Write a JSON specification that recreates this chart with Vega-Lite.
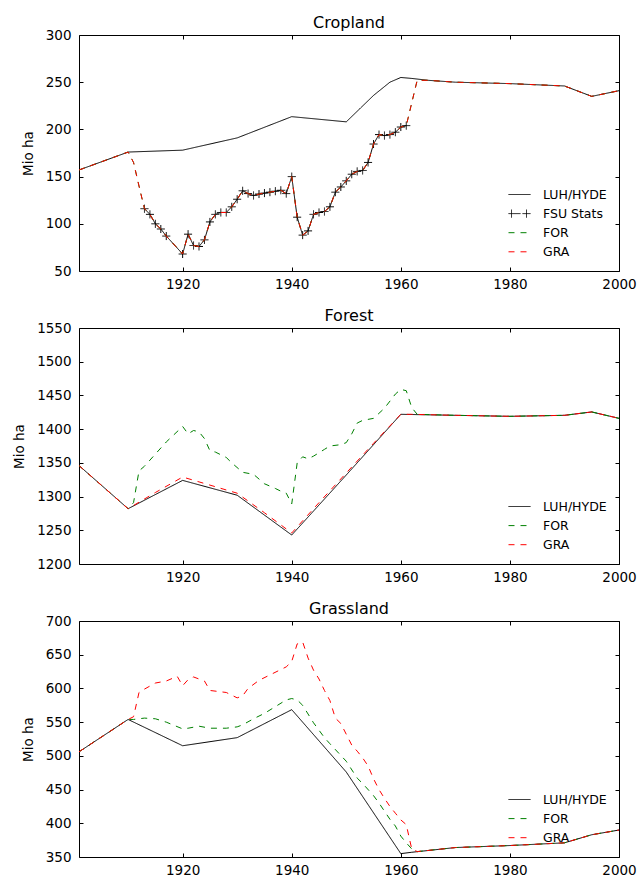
{
  "$schema": "https://vega.github.io/schema/vega-lite/v6.json",
  "padding": {"left": 12, "top": 14, "right": 5, "bottom": 0},
  "spacing": 16,
  "resolve": {"scale": {"color": "independent", "strokeDash": "independent", "y": "independent"}, "legend": {"color": "independent", "strokeDash": "independent"}},
  "config": {
    "font": "DejaVu Sans",
    "view": {"stroke": "#000", "strokeWidth": 1},
    "axis": {"grid": false, "domain": false, "tickSize": -4, "tickColor": "#000", "tickWidth": 1, "labelColor": "#000", "labelFontSize": 13.5, "labelFlush": false, "labelOverlap": false, "titleFontSize": 13.5, "titleFontWeight": "normal", "titleColor": "#000", "titlePadding": 10},
    "axisX": {"labelPadding": 10},
    "axisY": {"labelPadding": 12},
    "legend": {"orient": "bottom-right", "offset": 12, "labelFontSize": 12.5, "labelColor": "#000", "symbolSize": 196, "symbolStrokeWidth": 1, "labelOffset": 16, "rowPadding": 5.1, "symbolType": "M-1.57,0L1.57,0", "padding": 0},
    "title": {"fontSize": 16, "fontWeight": "normal", "color": "#000", "offset": -3}
  },
  "datasets": {
    "crop": [
      {"series": "LUH/HYDE", "year": 1901, "value": 157}, {"series": "LUH/HYDE", "year": 1910, "value": 176}, {"series": "LUH/HYDE", "year": 1920, "value": 178}, {"series": "LUH/HYDE", "year": 1930, "value": 191}, {"series": "LUH/HYDE", "year": 1940, "value": 213.5}, {"series": "LUH/HYDE", "year": 1950, "value": 208}, {"series": "LUH/HYDE", "year": 1955, "value": 236}, {"series": "LUH/HYDE", "year": 1958, "value": 250}, {"series": "LUH/HYDE", "year": 1960, "value": 255}, {"series": "LUH/HYDE", "year": 1962, "value": 254}, {"series": "LUH/HYDE", "year": 1965, "value": 252}, {"series": "LUH/HYDE", "year": 1970, "value": 250}, {"series": "LUH/HYDE", "year": 1980, "value": 248.5}, {"series": "LUH/HYDE", "year": 1990, "value": 246}, {"series": "LUH/HYDE", "year": 1995, "value": 235}, {"series": "LUH/HYDE", "year": 2000, "value": 241},

      {"series": "FSU Stats", "year": 1913, "value": 116}, {"series": "FSU Stats", "year": 1914, "value": 110}, {"series": "FSU Stats", "year": 1915, "value": 100}, {"series": "FSU Stats", "year": 1916, "value": 94.5}, {"series": "FSU Stats", "year": 1917, "value": 87}, {"series": "FSU Stats", "year": 1920, "value": 68}, {"series": "FSU Stats", "year": 1921, "value": 89}, {"series": "FSU Stats", "year": 1922, "value": 77}, {"series": "FSU Stats", "year": 1923, "value": 76}, {"series": "FSU Stats", "year": 1924, "value": 83}, {"series": "FSU Stats", "year": 1925, "value": 102}, {"series": "FSU Stats", "year": 1926, "value": 110}, {"series": "FSU Stats", "year": 1927, "value": 112}, {"series": "FSU Stats", "year": 1928, "value": 112}, {"series": "FSU Stats", "year": 1929, "value": 118}, {"series": "FSU Stats", "year": 1930, "value": 126}, {"series": "FSU Stats", "year": 1931, "value": 135}, {"series": "FSU Stats", "year": 1932, "value": 132}, {"series": "FSU Stats", "year": 1933, "value": 130}, {"series": "FSU Stats", "year": 1934, "value": 131.5}, {"series": "FSU Stats", "year": 1935, "value": 132.5}, {"series": "FSU Stats", "year": 1936, "value": 133.5}, {"series": "FSU Stats", "year": 1937, "value": 134.5}, {"series": "FSU Stats", "year": 1938, "value": 135.5}, {"series": "FSU Stats", "year": 1939, "value": 132}, {"series": "FSU Stats", "year": 1940, "value": 150}, {"series": "FSU Stats", "year": 1941, "value": 107}, {"series": "FSU Stats", "year": 1942, "value": 88}, {"series": "FSU Stats", "year": 1943, "value": 92.5}, {"series": "FSU Stats", "year": 1944, "value": 110}, {"series": "FSU Stats", "year": 1945, "value": 112}, {"series": "FSU Stats", "year": 1946, "value": 113}, {"series": "FSU Stats", "year": 1947, "value": 118}, {"series": "FSU Stats", "year": 1948, "value": 133.5}, {"series": "FSU Stats", "year": 1949, "value": 139}, {"series": "FSU Stats", "year": 1950, "value": 145.5}, {"series": "FSU Stats", "year": 1951, "value": 152.5}, {"series": "FSU Stats", "year": 1952, "value": 155.5}, {"series": "FSU Stats", "year": 1953, "value": 156.5}, {"series": "FSU Stats", "year": 1954, "value": 165}, {"series": "FSU Stats", "year": 1955, "value": 184.5}, {"series": "FSU Stats", "year": 1956, "value": 194.5}, {"series": "FSU Stats", "year": 1957, "value": 193.5}, {"series": "FSU Stats", "year": 1958, "value": 194.5}, {"series": "FSU Stats", "year": 1959, "value": 197}, {"series": "FSU Stats", "year": 1960, "value": 202.5}, {"series": "FSU Stats", "year": 1961, "value": 204},

      {"series": "FOR", "year": 1901, "value": 157}, {"series": "FOR", "year": 1910, "value": 176}, {"series": "FOR", "year": 1911, "value": 165}, {"series": "FOR", "year": 1912, "value": 140}, {"series": "FOR", "year": 1913, "value": 116}, {"series": "FOR", "year": 1914, "value": 110}, {"series": "FOR", "year": 1915, "value": 100}, {"series": "FOR", "year": 1916, "value": 94.5}, {"series": "FOR", "year": 1917, "value": 87}, {"series": "FOR", "year": 1920, "value": 68}, {"series": "FOR", "year": 1921, "value": 89}, {"series": "FOR", "year": 1922, "value": 77}, {"series": "FOR", "year": 1923, "value": 76}, {"series": "FOR", "year": 1924, "value": 83}, {"series": "FOR", "year": 1925, "value": 102}, {"series": "FOR", "year": 1926, "value": 110}, {"series": "FOR", "year": 1927, "value": 112}, {"series": "FOR", "year": 1928, "value": 112}, {"series": "FOR", "year": 1929, "value": 118}, {"series": "FOR", "year": 1930, "value": 126}, {"series": "FOR", "year": 1931, "value": 135}, {"series": "FOR", "year": 1932, "value": 132}, {"series": "FOR", "year": 1933, "value": 130}, {"series": "FOR", "year": 1934, "value": 131.5}, {"series": "FOR", "year": 1935, "value": 132.5}, {"series": "FOR", "year": 1936, "value": 133.5}, {"series": "FOR", "year": 1937, "value": 134.5}, {"series": "FOR", "year": 1938, "value": 135.5}, {"series": "FOR", "year": 1939, "value": 132}, {"series": "FOR", "year": 1940, "value": 150}, {"series": "FOR", "year": 1941, "value": 107}, {"series": "FOR", "year": 1942, "value": 88}, {"series": "FOR", "year": 1943, "value": 92.5}, {"series": "FOR", "year": 1944, "value": 110}, {"series": "FOR", "year": 1945, "value": 112}, {"series": "FOR", "year": 1946, "value": 113}, {"series": "FOR", "year": 1947, "value": 118}, {"series": "FOR", "year": 1948, "value": 133.5}, {"series": "FOR", "year": 1949, "value": 139}, {"series": "FOR", "year": 1950, "value": 145.5}, {"series": "FOR", "year": 1951, "value": 152.5}, {"series": "FOR", "year": 1952, "value": 155.5}, {"series": "FOR", "year": 1953, "value": 156.5}, {"series": "FOR", "year": 1954, "value": 165}, {"series": "FOR", "year": 1955, "value": 184.5}, {"series": "FOR", "year": 1956, "value": 194.5}, {"series": "FOR", "year": 1957, "value": 193.5}, {"series": "FOR", "year": 1958, "value": 194.5}, {"series": "FOR", "year": 1959, "value": 197}, {"series": "FOR", "year": 1960, "value": 202.5}, {"series": "FOR", "year": 1961, "value": 204}, {"series": "FOR", "year": 1963, "value": 252}, {"series": "FOR", "year": 1965, "value": 252}, {"series": "FOR", "year": 1970, "value": 250}, {"series": "FOR", "year": 1980, "value": 248.5}, {"series": "FOR", "year": 1990, "value": 246}, {"series": "FOR", "year": 1995, "value": 235}, {"series": "FOR", "year": 2000, "value": 241},

      {"series": "GRA", "year": 1901, "value": 157}, {"series": "GRA", "year": 1910, "value": 176}, {"series": "GRA", "year": 1911, "value": 165}, {"series": "GRA", "year": 1912, "value": 140}, {"series": "GRA", "year": 1913, "value": 116}, {"series": "GRA", "year": 1914, "value": 110}, {"series": "GRA", "year": 1915, "value": 100}, {"series": "GRA", "year": 1916, "value": 94.5}, {"series": "GRA", "year": 1917, "value": 87}, {"series": "GRA", "year": 1920, "value": 68}, {"series": "GRA", "year": 1921, "value": 89}, {"series": "GRA", "year": 1922, "value": 77}, {"series": "GRA", "year": 1923, "value": 76}, {"series": "GRA", "year": 1924, "value": 83}, {"series": "GRA", "year": 1925, "value": 102}, {"series": "GRA", "year": 1926, "value": 110}, {"series": "GRA", "year": 1927, "value": 112}, {"series": "GRA", "year": 1928, "value": 112}, {"series": "GRA", "year": 1929, "value": 118}, {"series": "GRA", "year": 1930, "value": 126}, {"series": "GRA", "year": 1931, "value": 135}, {"series": "GRA", "year": 1932, "value": 132}, {"series": "GRA", "year": 1933, "value": 130}, {"series": "GRA", "year": 1934, "value": 131.5}, {"series": "GRA", "year": 1935, "value": 132.5}, {"series": "GRA", "year": 1936, "value": 133.5}, {"series": "GRA", "year": 1937, "value": 134.5}, {"series": "GRA", "year": 1938, "value": 135.5}, {"series": "GRA", "year": 1939, "value": 132}, {"series": "GRA", "year": 1940, "value": 150}, {"series": "GRA", "year": 1941, "value": 107}, {"series": "GRA", "year": 1942, "value": 88}, {"series": "GRA", "year": 1943, "value": 92.5}, {"series": "GRA", "year": 1944, "value": 110}, {"series": "GRA", "year": 1945, "value": 112}, {"series": "GRA", "year": 1946, "value": 113}, {"series": "GRA", "year": 1947, "value": 118}, {"series": "GRA", "year": 1948, "value": 133.5}, {"series": "GRA", "year": 1949, "value": 139}, {"series": "GRA", "year": 1950, "value": 145.5}, {"series": "GRA", "year": 1951, "value": 152.5}, {"series": "GRA", "year": 1952, "value": 155.5}, {"series": "GRA", "year": 1953, "value": 156.5}, {"series": "GRA", "year": 1954, "value": 165}, {"series": "GRA", "year": 1955, "value": 184.5}, {"series": "GRA", "year": 1956, "value": 194.5}, {"series": "GRA", "year": 1957, "value": 193.5}, {"series": "GRA", "year": 1958, "value": 194.5}, {"series": "GRA", "year": 1959, "value": 197}, {"series": "GRA", "year": 1960, "value": 202.5}, {"series": "GRA", "year": 1961, "value": 204}, {"series": "GRA", "year": 1963, "value": 252}, {"series": "GRA", "year": 1965, "value": 252}, {"series": "GRA", "year": 1970, "value": 250}, {"series": "GRA", "year": 1980, "value": 248.5}, {"series": "GRA", "year": 1990, "value": 246}, {"series": "GRA", "year": 1995, "value": 235}, {"series": "GRA", "year": 2000, "value": 241}
    ],
    "forest": [
      {"series": "LUH/HYDE", "year": 1901, "value": 1346}, {"series": "LUH/HYDE", "year": 1910, "value": 1282}, {"series": "LUH/HYDE", "year": 1920, "value": 1324}, {"series": "LUH/HYDE", "year": 1930, "value": 1302}, {"series": "LUH/HYDE", "year": 1940, "value": 1243}, {"series": "LUH/HYDE", "year": 1950, "value": 1332}, {"series": "LUH/HYDE", "year": 1960, "value": 1422}, {"series": "LUH/HYDE", "year": 1970, "value": 1420.5}, {"series": "LUH/HYDE", "year": 1980, "value": 1419}, {"series": "LUH/HYDE", "year": 1990, "value": 1420.5}, {"series": "LUH/HYDE", "year": 1995, "value": 1425.5}, {"series": "LUH/HYDE", "year": 2000, "value": 1416},

      {"series": "FOR", "year": 1901, "value": 1346}, {"series": "FOR", "year": 1910, "value": 1282}, {"series": "FOR", "year": 1911, "value": 1291}, {"series": "FOR", "year": 1912, "value": 1338}, {"series": "FOR", "year": 1913, "value": 1345}, {"series": "FOR", "year": 1915, "value": 1363}, {"series": "FOR", "year": 1917, "value": 1381}, {"series": "FOR", "year": 1920, "value": 1404}, {"series": "FOR", "year": 1921, "value": 1393}, {"series": "FOR", "year": 1922, "value": 1398}, {"series": "FOR", "year": 1923, "value": 1396}, {"series": "FOR", "year": 1924, "value": 1386}, {"series": "FOR", "year": 1925, "value": 1368}, {"series": "FOR", "year": 1926, "value": 1366}, {"series": "FOR", "year": 1928, "value": 1358}, {"series": "FOR", "year": 1929, "value": 1350}, {"series": "FOR", "year": 1931, "value": 1336}, {"series": "FOR", "year": 1933, "value": 1333}, {"series": "FOR", "year": 1935, "value": 1319}, {"series": "FOR", "year": 1937, "value": 1312}, {"series": "FOR", "year": 1938, "value": 1308}, {"series": "FOR", "year": 1939, "value": 1305}, {"series": "FOR", "year": 1940, "value": 1289}, {"series": "FOR", "year": 1941, "value": 1350}, {"series": "FOR", "year": 1942, "value": 1359}, {"series": "FOR", "year": 1943, "value": 1356}, {"series": "FOR", "year": 1944, "value": 1360}, {"series": "FOR", "year": 1946, "value": 1370}, {"series": "FOR", "year": 1947, "value": 1375}, {"series": "FOR", "year": 1949, "value": 1377}, {"series": "FOR", "year": 1950, "value": 1380}, {"series": "FOR", "year": 1951, "value": 1393}, {"series": "FOR", "year": 1952, "value": 1409}, {"series": "FOR", "year": 1953, "value": 1413}, {"series": "FOR", "year": 1955, "value": 1416}, {"series": "FOR", "year": 1957, "value": 1431}, {"series": "FOR", "year": 1959, "value": 1452}, {"series": "FOR", "year": 1960, "value": 1459}, {"series": "FOR", "year": 1961, "value": 1457}, {"series": "FOR", "year": 1962, "value": 1432}, {"series": "FOR", "year": 1963, "value": 1422}, {"series": "FOR", "year": 1970, "value": 1420.5}, {"series": "FOR", "year": 1980, "value": 1419}, {"series": "FOR", "year": 1990, "value": 1420.5}, {"series": "FOR", "year": 1995, "value": 1425.5}, {"series": "FOR", "year": 2000, "value": 1416},

      {"series": "GRA", "year": 1901, "value": 1346}, {"series": "GRA", "year": 1910, "value": 1282}, {"series": "GRA", "year": 1915, "value": 1306}, {"series": "GRA", "year": 1920, "value": 1329}, {"series": "GRA", "year": 1925, "value": 1317}, {"series": "GRA", "year": 1930, "value": 1305}, {"series": "GRA", "year": 1935, "value": 1276}, {"series": "GRA", "year": 1940, "value": 1246}, {"series": "GRA", "year": 1945, "value": 1291}, {"series": "GRA", "year": 1950, "value": 1335}, {"series": "GRA", "year": 1955, "value": 1379}, {"series": "GRA", "year": 1960, "value": 1422}, {"series": "GRA", "year": 1962, "value": 1422}, {"series": "GRA", "year": 1970, "value": 1420.5}, {"series": "GRA", "year": 1980, "value": 1419}, {"series": "GRA", "year": 1990, "value": 1420.5}, {"series": "GRA", "year": 1995, "value": 1425.5}, {"series": "GRA", "year": 2000, "value": 1416}
    ],
    "grass": [
      {"series": "LUH/HYDE", "year": 1901, "value": 506}, {"series": "LUH/HYDE", "year": 1910, "value": 554}, {"series": "LUH/HYDE", "year": 1920, "value": 515}, {"series": "LUH/HYDE", "year": 1930, "value": 527}, {"series": "LUH/HYDE", "year": 1940, "value": 568.5}, {"series": "LUH/HYDE", "year": 1950, "value": 476}, {"series": "LUH/HYDE", "year": 1960, "value": 355}, {"series": "LUH/HYDE", "year": 1962, "value": 357}, {"series": "LUH/HYDE", "year": 1970, "value": 364}, {"series": "LUH/HYDE", "year": 1980, "value": 367}, {"series": "LUH/HYDE", "year": 1990, "value": 371}, {"series": "LUH/HYDE", "year": 1995, "value": 383}, {"series": "LUH/HYDE", "year": 2000, "value": 390},

      {"series": "FOR", "year": 1901, "value": 506}, {"series": "FOR", "year": 1910, "value": 554}, {"series": "FOR", "year": 1911, "value": 554}, {"series": "FOR", "year": 1913, "value": 556}, {"series": "FOR", "year": 1915, "value": 555}, {"series": "FOR", "year": 1917, "value": 550}, {"series": "FOR", "year": 1920, "value": 540}, {"series": "FOR", "year": 1921, "value": 541}, {"series": "FOR", "year": 1923, "value": 544}, {"series": "FOR", "year": 1925, "value": 541}, {"series": "FOR", "year": 1928, "value": 541}, {"series": "FOR", "year": 1930, "value": 543}, {"series": "FOR", "year": 1931, "value": 546}, {"series": "FOR", "year": 1933, "value": 555}, {"series": "FOR", "year": 1935, "value": 563}, {"series": "FOR", "year": 1937, "value": 573}, {"series": "FOR", "year": 1939, "value": 583}, {"series": "FOR", "year": 1940, "value": 585}, {"series": "FOR", "year": 1941, "value": 583}, {"series": "FOR", "year": 1942, "value": 575}, {"series": "FOR", "year": 1944, "value": 549}, {"series": "FOR", "year": 1946, "value": 527}, {"series": "FOR", "year": 1947, "value": 518}, {"series": "FOR", "year": 1950, "value": 492}, {"series": "FOR", "year": 1952, "value": 467}, {"series": "FOR", "year": 1953, "value": 459}, {"series": "FOR", "year": 1955, "value": 441}, {"series": "FOR", "year": 1956, "value": 430}, {"series": "FOR", "year": 1958, "value": 406}, {"series": "FOR", "year": 1959, "value": 396}, {"series": "FOR", "year": 1960, "value": 381}, {"series": "FOR", "year": 1961, "value": 371}, {"series": "FOR", "year": 1962, "value": 362}, {"series": "FOR", "year": 1963, "value": 358}, {"series": "FOR", "year": 1970, "value": 364}, {"series": "FOR", "year": 1980, "value": 367}, {"series": "FOR", "year": 1990, "value": 371}, {"series": "FOR", "year": 1995, "value": 383}, {"series": "FOR", "year": 2000, "value": 390},

      {"series": "GRA", "year": 1901, "value": 506}, {"series": "GRA", "year": 1910, "value": 554}, {"series": "GRA", "year": 1911, "value": 558}, {"series": "GRA", "year": 1912, "value": 594}, {"series": "GRA", "year": 1913, "value": 599}, {"series": "GRA", "year": 1915, "value": 608}, {"series": "GRA", "year": 1917, "value": 611}, {"series": "GRA", "year": 1919, "value": 618}, {"series": "GRA", "year": 1920, "value": 604}, {"series": "GRA", "year": 1921, "value": 613}, {"series": "GRA", "year": 1922, "value": 617}, {"series": "GRA", "year": 1923, "value": 614}, {"series": "GRA", "year": 1924, "value": 611}, {"series": "GRA", "year": 1925, "value": 597}, {"series": "GRA", "year": 1927, "value": 595}, {"series": "GRA", "year": 1928, "value": 594}, {"series": "GRA", "year": 1930, "value": 586}, {"series": "GRA", "year": 1931, "value": 589}, {"series": "GRA", "year": 1932, "value": 600}, {"series": "GRA", "year": 1934, "value": 612}, {"series": "GRA", "year": 1936, "value": 620}, {"series": "GRA", "year": 1938, "value": 628}, {"series": "GRA", "year": 1939, "value": 632}, {"series": "GRA", "year": 1940, "value": 640}, {"series": "GRA", "year": 1941, "value": 666}, {"series": "GRA", "year": 1942, "value": 669}, {"series": "GRA", "year": 1943, "value": 645}, {"series": "GRA", "year": 1944, "value": 627}, {"series": "GRA", "year": 1945, "value": 614}, {"series": "GRA", "year": 1946, "value": 597}, {"series": "GRA", "year": 1947, "value": 582}, {"series": "GRA", "year": 1948, "value": 556}, {"series": "GRA", "year": 1949, "value": 548}, {"series": "GRA", "year": 1950, "value": 532}, {"series": "GRA", "year": 1951, "value": 516}, {"series": "GRA", "year": 1952, "value": 507}, {"series": "GRA", "year": 1953, "value": 497}, {"series": "GRA", "year": 1954, "value": 485}, {"series": "GRA", "year": 1955, "value": 466}, {"series": "GRA", "year": 1956, "value": 450}, {"series": "GRA", "year": 1957, "value": 437}, {"series": "GRA", "year": 1958, "value": 425}, {"series": "GRA", "year": 1959, "value": 415}, {"series": "GRA", "year": 1960, "value": 405}, {"series": "GRA", "year": 1961, "value": 398}, {"series": "GRA", "year": 1962, "value": 362}, {"series": "GRA", "year": 1963, "value": 358}, {"series": "GRA", "year": 1970, "value": 364}, {"series": "GRA", "year": 1980, "value": 367}, {"series": "GRA", "year": 1990, "value": 371}, {"series": "GRA", "year": 1995, "value": 383}, {"series": "GRA", "year": 2000, "value": 390}
    ]
  },
  "vconcat": [
    {
      "title": "Cropland",
      "width": 540, "height": 236,
      "data": {"name": "crop"},
      "resolve": {"axis": {"x": "independent", "y": "independent"}},
      "encoding": {
        "x": {"field": "year", "type": "quantitative", "scale": {"domain": [1901, 2000], "nice": false, "zero": false}, "axis": null},
        "y": {"field": "value", "type": "quantitative", "scale": {"domain": [50, 300], "nice": false, "zero": false}, "axis": null},
        "color": {"field": "series", "type": "nominal", "scale": {"domain": ["LUH/HYDE", "FSU Stats", "FOR", "GRA"], "range": ["#000000", "#000000", "#008000", "#ff0000"]},
          "legend": {"title": null, "encode": {"symbols": {"update": {"shape": {"signal": "datum.value === 'FSU Stats' ? 'M-1.57,0L0.14,0M-1.14,-0.57L-1.14,0.57M0.43,0L1.57,0M1,-0.57L1,0.57' : 'M-1.57,0L1.57,0'"}, "strokeDash": {"signal": "(datum.value === 'FOR' || datum.value === 'GRA') ? [6,6] : [1,0]"}, "stroke": {"signal": "datum.value === 'FOR' ? '#008000' : (datum.value === 'GRA' ? '#ff0000' : '#000000')"}, "fill": {"value": "transparent"}, "opacity": {"value": 1}, "strokeOpacity": {"value": 1}}}}}},
        "strokeDash": {"field": "series", "type": "nominal", "scale": {"domain": ["LUH/HYDE", "FSU Stats", "FOR", "GRA"], "range": [[1, 0], [1, 0], [6, 6], [6, 6]]}, "legend": null}
      },
      "layer": [
        {"transform": [{"filter": "datum.series === 'LUH/HYDE'"}], "mark": {"type": "line", "strokeWidth": 1},
         "encoding": {
           "x": {"field": "year", "type": "quantitative", "scale": {"domain": [1901, 2000], "nice": false, "zero": false}, "axis": {"values": [1920, 1940, 1960, 1980, 2000], "format": "d", "title": null}},
           "y": {"field": "value", "type": "quantitative", "scale": {"domain": [50, 300], "nice": false, "zero": false}, "axis": {"values": [50, 100, 150, 200, 250, 300], "title": "Mio ha"}}
         }},
        {"transform": [{"filter": "datum.series === 'FSU Stats'"}], "mark": {"type": "line", "strokeWidth": 1},
         "encoding": {
           "x": {"field": "year", "type": "quantitative", "scale": {"domain": [1901, 2000], "nice": false, "zero": false}, "axis": {"orient": "top", "values": [1920, 1940, 1960, 1980, 2000], "labels": false, "title": null}},
           "y": {"field": "value", "type": "quantitative", "scale": {"domain": [50, 300], "nice": false, "zero": false}, "axis": {"orient": "right", "values": [50, 100, 150, 200, 250, 300], "labels": false, "title": null}}
         }},
        {"transform": [{"filter": "datum.series === 'FSU Stats'"}], "mark": {"type": "point", "shape": "M-1,0L1,0M0,-1L0,1", "size": 64, "filled": false, "stroke": "#000", "strokeWidth": 1, "opacity": 1},
         "encoding": {"color": {"value": "#000"}, "strokeDash": {"value": [1, 0]}}},
        {"transform": [{"filter": "datum.series === 'FOR'"}], "mark": {"type": "line", "strokeWidth": 1}},
        {"transform": [{"filter": "datum.series === 'GRA'"}], "mark": {"type": "line", "strokeWidth": 1}}
      ]
    },
    {
      "title": "Forest",
      "width": 540, "height": 236,
      "data": {"name": "forest"},
      "resolve": {"axis": {"x": "independent", "y": "independent"}},
      "encoding": {
        "x": {"field": "year", "type": "quantitative", "scale": {"domain": [1901, 2000], "nice": false, "zero": false}, "axis": null},
        "y": {"field": "value", "type": "quantitative", "scale": {"domain": [1200, 1550], "nice": false, "zero": false}, "axis": null},
        "color": {"field": "series", "type": "nominal", "scale": {"domain": ["LUH/HYDE", "FOR", "GRA"], "range": ["#000000", "#008000", "#ff0000"]},
          "legend": {"title": null, "encode": {"symbols": {"update": {"strokeDash": {"signal": "(datum.value === 'FOR' || datum.value === 'GRA') ? [6,6] : [1,0]"}, "stroke": {"signal": "datum.value === 'FOR' ? '#008000' : (datum.value === 'GRA' ? '#ff0000' : '#000000')"}, "fill": {"value": "transparent"}, "opacity": {"value": 1}, "strokeOpacity": {"value": 1}}}}}},
        "strokeDash": {"field": "series", "type": "nominal", "scale": {"domain": ["LUH/HYDE", "FOR", "GRA"], "range": [[1, 0], [6, 6], [6, 6]]}, "legend": null}
      },
      "layer": [
        {"transform": [{"filter": "datum.series === 'LUH/HYDE'"}], "mark": {"type": "line", "strokeWidth": 1},
         "encoding": {
           "x": {"field": "year", "type": "quantitative", "scale": {"domain": [1901, 2000], "nice": false, "zero": false}, "axis": {"values": [1920, 1940, 1960, 1980, 2000], "format": "d", "title": null}},
           "y": {"field": "value", "type": "quantitative", "scale": {"domain": [1200, 1550], "nice": false, "zero": false}, "axis": {"values": [1200, 1250, 1300, 1350, 1400, 1450, 1500, 1550], "format": "d", "title": "Mio ha"}}
         }},
        {"transform": [{"filter": "datum.series === 'FOR'"}], "mark": {"type": "line", "strokeWidth": 1},
         "encoding": {
           "x": {"field": "year", "type": "quantitative", "scale": {"domain": [1901, 2000], "nice": false, "zero": false}, "axis": {"orient": "top", "values": [1920, 1940, 1960, 1980, 2000], "labels": false, "title": null}},
           "y": {"field": "value", "type": "quantitative", "scale": {"domain": [1200, 1550], "nice": false, "zero": false}, "axis": {"orient": "right", "values": [1200, 1250, 1300, 1350, 1400, 1450, 1500, 1550], "labels": false, "title": null}}
         }},
        {"transform": [{"filter": "datum.series === 'GRA'"}], "mark": {"type": "line", "strokeWidth": 1}}
      ]
    },
    {
      "title": "Grassland",
      "width": 540, "height": 236,
      "data": {"name": "grass"},
      "resolve": {"axis": {"x": "independent", "y": "independent"}},
      "encoding": {
        "x": {"field": "year", "type": "quantitative", "scale": {"domain": [1901, 2000], "nice": false, "zero": false}, "axis": null},
        "y": {"field": "value", "type": "quantitative", "scale": {"domain": [350, 700], "nice": false, "zero": false}, "axis": null},
        "color": {"field": "series", "type": "nominal", "scale": {"domain": ["LUH/HYDE", "FOR", "GRA"], "range": ["#000000", "#008000", "#ff0000"]},
          "legend": {"title": null, "encode": {"symbols": {"update": {"strokeDash": {"signal": "(datum.value === 'FOR' || datum.value === 'GRA') ? [6,6] : [1,0]"}, "stroke": {"signal": "datum.value === 'FOR' ? '#008000' : (datum.value === 'GRA' ? '#ff0000' : '#000000')"}, "fill": {"value": "transparent"}, "opacity": {"value": 1}, "strokeOpacity": {"value": 1}}}}}},
        "strokeDash": {"field": "series", "type": "nominal", "scale": {"domain": ["LUH/HYDE", "FOR", "GRA"], "range": [[1, 0], [6, 6], [6, 6]]}, "legend": null}
      },
      "layer": [
        {"transform": [{"filter": "datum.series === 'LUH/HYDE'"}], "mark": {"type": "line", "strokeWidth": 1},
         "encoding": {
           "x": {"field": "year", "type": "quantitative", "scale": {"domain": [1901, 2000], "nice": false, "zero": false}, "axis": {"values": [1920, 1940, 1960, 1980, 2000], "format": "d", "title": null}},
           "y": {"field": "value", "type": "quantitative", "scale": {"domain": [350, 700], "nice": false, "zero": false}, "axis": {"values": [350, 400, 450, 500, 550, 600, 650, 700], "title": "Mio ha"}}
         }},
        {"transform": [{"filter": "datum.series === 'FOR'"}], "mark": {"type": "line", "strokeWidth": 1},
         "encoding": {
           "x": {"field": "year", "type": "quantitative", "scale": {"domain": [1901, 2000], "nice": false, "zero": false}, "axis": {"orient": "top", "values": [1920, 1940, 1960, 1980, 2000], "labels": false, "title": null}},
           "y": {"field": "value", "type": "quantitative", "scale": {"domain": [350, 700], "nice": false, "zero": false}, "axis": {"orient": "right", "values": [350, 400, 450, 500, 550, 600, 650, 700], "labels": false, "title": null}}
         }},
        {"transform": [{"filter": "datum.series === 'GRA'"}], "mark": {"type": "line", "strokeWidth": 1}}
      ]
    }
  ]
}
